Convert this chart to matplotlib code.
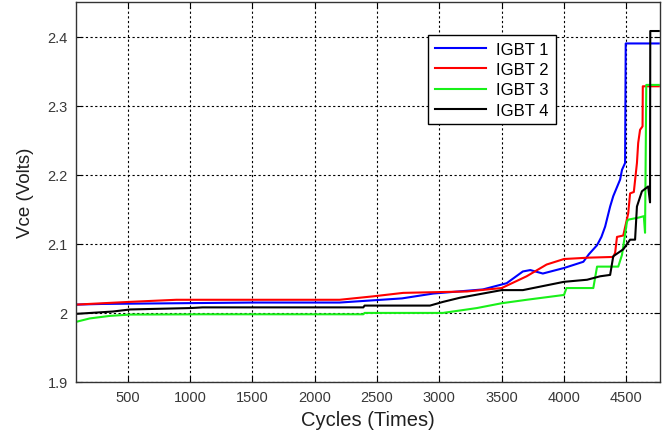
import matplotlib
matplotlib.use("Agg")
import matplotlib.pyplot as plt

# Vce drift vs. power cycles for four IGBT modules
igbt1_cycles = [85, 300, 900, 1500, 2200, 2700, 2950, 3350, 3540, 3670, 3730, 3830,
                4000, 4155, 4200, 4265, 4300, 4330, 4370, 4395, 4450, 4465, 4490,
                4495, 4760]
igbt1_vce = [2.012, 2.013, 2.014, 2.015, 2.015, 2.021, 2.028, 2.034, 2.043, 2.060,
             2.062, 2.057, 2.065, 2.074, 2.085, 2.098, 2.110, 2.125, 2.154, 2.169,
             2.193, 2.207, 2.217, 2.390, 2.390]

igbt2_cycles = [85, 300, 520, 890, 2200, 2470, 2710, 3220, 3500, 3700, 3860, 4000,
                4200, 4395, 4410, 4425, 4475, 4515, 4530, 4560, 4585, 4595, 4610,
                4630, 4632, 4760]
igbt2_vce = [2.012, 2.014, 2.016, 2.019, 2.019, 2.024, 2.029, 2.031, 2.036, 2.053,
             2.070, 2.078, 2.080, 2.081, 2.087, 2.110, 2.112, 2.144, 2.173, 2.175,
             2.217, 2.246, 2.265, 2.270, 2.328, 2.328]

igbt3_cycles = [85, 195, 357, 520, 1100, 2390, 2400, 3030, 3300, 3500, 3700, 4000,
                4020, 4235, 4265, 4435, 4465, 4505, 4515, 4600, 4640, 4650, 4660,
                4760]
igbt3_vce = [1.987, 1.992, 1.9957, 1.9976, 1.998, 1.998, 2.000, 2.000, 2.007, 2.014,
             2.019, 2.026, 2.036, 2.036, 2.067, 2.067, 2.084, 2.132, 2.135, 2.138,
             2.140, 2.116, 2.330, 2.330]

igbt4_cycles = [85, 380, 520, 1000, 1100, 2390, 2400, 2925, 3030, 3166, 3500, 3670,
                4000, 4185, 4290, 4370, 4395, 4475, 4530, 4570, 4585, 4625, 4675,
                4690, 4692, 4760]
igbt4_vce = [1.9986, 2.002, 2.005, 2.007, 2.008, 2.008, 2.0106, 2.0106, 2.016, 2.022,
             2.033, 2.033, 2.045, 2.048, 2.053, 2.055, 2.082, 2.092, 2.106, 2.106,
             2.154, 2.176, 2.183, 2.160, 2.408, 2.408]

labels = ["IGBT 1", "IGBT 2", "IGBT 3", "IGBT 4"]
colors = ["#0000ff", "#ff0000", "#19f019", "#000000"]
x_ticks = [500, 1000, 1500, 2000, 2500, 3000, 3500, 4000, 4500]
y_ticks = [1.9, 2.0, 2.1, 2.2, 2.3, 2.4]
y_ticklabels = ["1.9", "2", "2.1", "2.2", "2.3", "2.4"]

plt.rcParams["font.family"] = ["Liberation Sans", "DejaVu Sans"]

fig = plt.figure(figsize=(6.62, 4.35), dpi=100)
ax = fig.add_axes([76 / 662, 1 - 383 / 435, 584 / 662, 380 / 435])

series = [(igbt1_cycles, igbt1_vce), (igbt2_cycles, igbt2_vce),
          (igbt3_cycles, igbt3_vce), (igbt4_cycles, igbt4_vce)]
for (cx, cy), lab, c in zip(series, labels, colors):
    ax.plot(cx, cy, color=c, lw=1.5, label=lab)

ax.set_xlim(85, 4770)
ax.set_ylim(1.9, 2.45)
ax.set_xticks(x_ticks)
ax.set_yticks(y_ticks)
ax.set_yticklabels(y_ticklabels)
ax.tick_params(direction="in", length=4, width=0.8, top=True, right=True,
               labelsize=10.5, labelcolor="#383838", pad=6)
ax.grid(True, color="black", linestyle=(0, (2.0, 2.2)), linewidth=0.8)
for s in ax.spines.values():
    s.set_linewidth(1.0)
    s.set_color("#333333")

ax.set_xlabel("Cycles (Times)", fontsize=14.5, color="#202020", labelpad=4)
ax.set_ylabel("Vce (Volts)", fontsize=13.5, color="#202020", labelpad=10)

leg = ax.legend(loc="upper left", bbox_to_anchor=(428 / 662, 1 - 36 / 435),
                bbox_transform=fig.transFigure, borderaxespad=0, fontsize=12,
                handlelength=3.1, labelspacing=0.32, borderpad=0.4,
                handletextpad=0.6, fancybox=False, framealpha=1)
leg.get_frame().set_edgecolor("black")
leg.get_frame().set_linewidth(1.0)

fig.savefig("out.png", dpi=100)
